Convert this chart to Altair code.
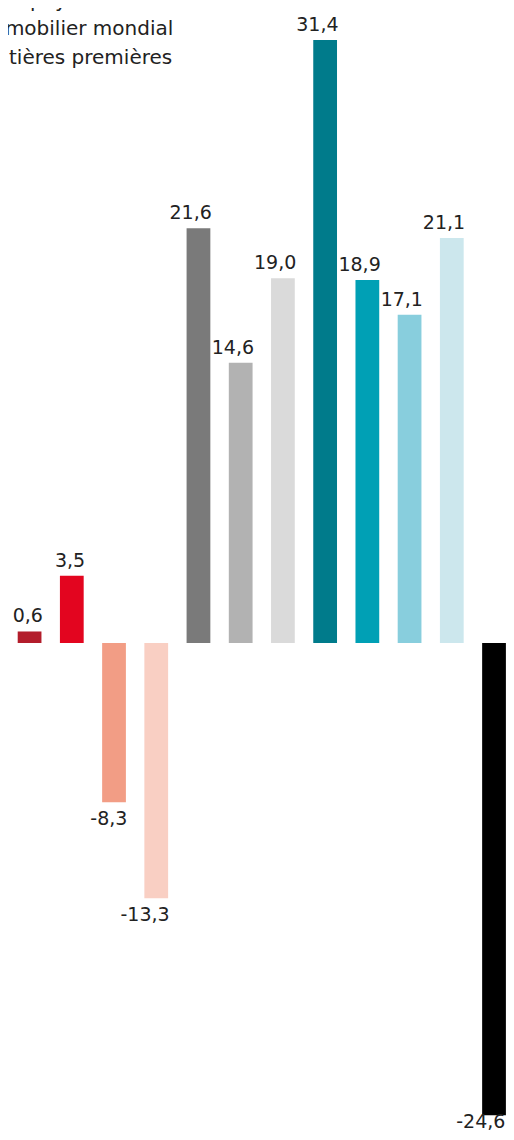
import altair as alt
import pandas as pd

# ---- data ----
categories = ["Série 1", "Série 2", "Série 3", "Série 4", "Série 5", "Série 6",
              "Série 7", "Série 8", "Série 9", "Série 10", "Série 11", "Série 12"]
values = [0.6, 3.5, -8.3, -13.3, 21.6, 14.6, 19.0, 31.4, 18.9, 17.1, 21.1, -24.6]
colors = ["#b31d2b", "#e3051f", "#f29d85", "#f9cfc3", "#7a7a7a", "#b2b2b2",
          "#dadada", "#007b8b", "#00a0b5", "#88cedd", "#cce7ed", "#000000"]
legend_lines = ["Tous pays", "Immobilier mondial", "Matières premières"]

FONT = "DejaVu Sans"
TEXT_COLOR = "#222222"

df = pd.DataFrame({
    "cat": categories,
    "value": values,
    "label": [f"{v:.1f}".replace(".", ",") for v in values],
    "color": colors,
})
leg_df = pd.DataFrame({"t": legend_lines, "i": list(range(len(legend_lines)))})

x_scale = alt.Scale(range=[9.7, 497.9], paddingInner=0.4373, paddingOuter=0)
y_scale = alt.Scale(domain=[-30, 35], range=[1211, -37], nice=False, zero=False)

base = alt.Chart(df)

X_EDGE = alt.X("cat:N", sort=categories, scale=x_scale, axis=None, bandPosition=1)
Y_VAL = alt.Y("value:Q", scale=y_scale, axis=None)

bars = base.mark_bar().encode(
    x=alt.X("cat:N", sort=categories, scale=x_scale, axis=None),
    y=Y_VAL,
    y2=alt.datum(0),
    color=alt.Color("color:N", scale=None, legend=None),
)

text_style = dict(align="right", baseline="alphabetic",
                  font=FONT, fontSize=19, color=TEXT_COLOR)

pos_labels = base.transform_filter("datum.value >= 0").mark_text(
    dx=1.5, dy=-9, **text_style
).encode(x=X_EDGE, y=Y_VAL, text="label:N")

neg_labels = base.transform_filter("datum.value < 0 && datum.value > -20").mark_text(
    dx=1.5, dy=22.5, **text_style
).encode(x=X_EDGE, y=Y_VAL, text="label:N")

# the deepest bar's label sits at the very bottom edge of the picture
bottom_label = base.transform_filter("datum.value <= -20").mark_text(
    dx=-0.5, dy=13, **text_style
).encode(x=X_EDGE, y=Y_VAL, text="label:N")

legend_text = alt.Chart(leg_df).mark_text(
    align="left", baseline="alphabetic",
    font=FONT, fontSize=20, color=TEXT_COLOR,
).encode(
    x=alt.value(-28.5),
    y=alt.Y("i:Q", scale=alt.Scale(domain=[0, 2], range=[-1, 55.5], nice=False, zero=False), axis=None),
    text="t:N",
)

chart = alt.layer(bars, pos_labels, neg_labels, bottom_label, legend_text).resolve_scale(
    y="independent"
).properties(
    width=498, height=1124,
    autosize=alt.AutoSizeParams(type="none"),
    padding=0,
).configure_view(stroke=None)

chart.save("out.html", embed_options={"renderer": "svg", "actions": False})
